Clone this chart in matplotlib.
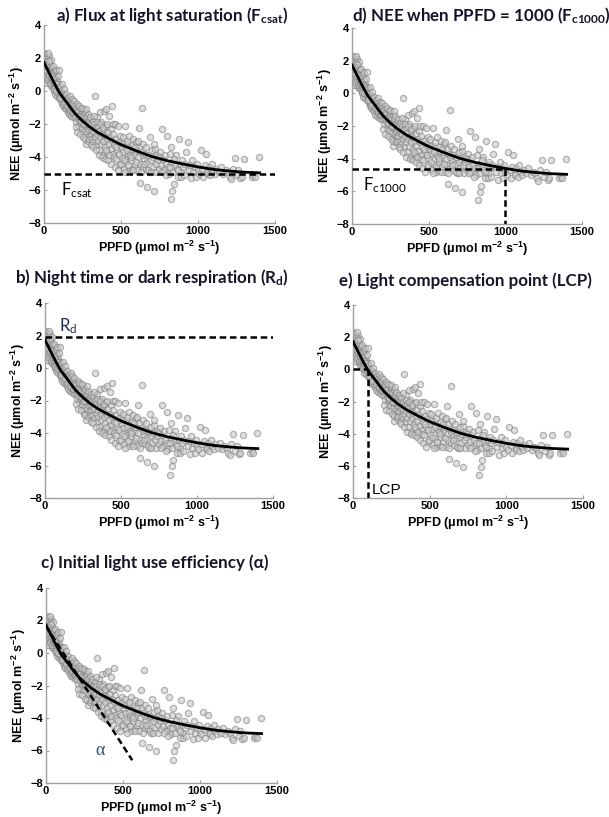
import numpy as np
import matplotlib
matplotlib.use("Agg")
import matplotlib.pyplot as plt

plt.rcParams["mathtext.fontset"] = "custom"
plt.rcParams["mathtext.bf"] = "Liberation Sans:bold"
plt.rcParams["mathtext.rm"] = "Liberation Sans"
plt.rcParams["mathtext.it"] = "Liberation Sans:italic"
plt.rcParams["mathtext.sf"] = "Lato:bold"
plt.rcParams["mathtext.cal"] = "Lato"

ppfd_obs = [
    2, 5, 8, 10, 12, 14, 15, 18, 20, 22, 24, 25, 28, 30, 32, 34, 36, 38, 40, 42, 44, 46, 48, 50,
    3, 6, 9, 16, 26, 35, 45, 4, 11, 19, 27, 33, 39, 47,
    52, 54, 56, 58, 60, 62, 64, 66, 68, 70, 72, 74, 76, 78, 80, 82, 84, 86, 88, 90, 92, 94, 96, 98, 100,
    57, 63, 71, 79, 87, 95,
    102, 105, 108, 110, 112, 115, 118, 120, 122, 125, 128, 130, 133, 135, 138, 140, 143, 145, 148, 150,
    153, 155, 158, 160, 163, 165, 168, 170, 173, 175, 178, 180, 183, 185, 188, 190, 193, 195, 198, 200,
    107, 127, 147, 167, 187,
    203, 206, 210, 213, 216, 220, 223, 226, 230, 233, 236, 240, 243, 246, 250, 253, 256, 260, 263, 266,
    270, 272, 275, 278, 280, 283, 286, 290, 293, 296, 300, 218, 238, 258, 288,
    205, 215, 225, 235, 245, 255, 265, 275, 285, 295,
    303, 306, 310, 313, 316, 320, 323, 326, 330, 333, 336, 340, 343, 346, 350, 353, 356, 360, 363, 366,
    370, 373, 376, 380, 383, 386, 390, 393, 396, 400, 405, 408, 412, 415, 420, 425, 428, 432, 436, 440,
    443, 447, 450,
    305, 315, 325, 335, 345, 355, 365, 375, 385, 395, 402, 410, 418, 425, 435, 445, 452,
    455, 460, 465, 470, 475, 480, 485, 490, 495, 500, 505, 510, 515, 520, 526, 530, 535, 540, 545, 550,
    555, 560, 565, 570, 575, 580, 585, 590, 595, 600, 605, 610, 614, 618, 622, 625, 630, 636, 640, 645, 650,
    458, 468, 478, 488, 498, 508, 518, 528, 538, 548, 558, 568, 578, 588, 598, 608, 628, 642,
    655, 660, 665, 669, 672, 678, 684, 690, 695, 700, 705, 710, 717, 720, 725, 730, 735, 740, 748, 755,
    760, 768, 772, 778, 785, 790, 800, 805, 810, 815, 822, 826, 830, 833, 838, 844, 850, 856, 862, 868,
    877, 882, 888, 895, 900,
    652, 675, 698, 715, 745, 765, 795, 820, 845, 870, 890,
    908, 915, 922, 932, 940, 948, 955, 962, 970, 978, 985, 992, 1000, 1008, 1020, 1028, 1035, 1045, 1053,
    1060, 1064, 1072, 1080, 1090, 1100, 1110, 1120, 1135, 1150, 1165, 1180, 1195, 1205, 1215, 1225, 1239,
    1250, 1262, 1275, 1283, 1300, 1350, 1360, 1370, 1393,
]
nee_obs = [
    2.3, 1.9, 1.5, 2.2, 1.2, 0.9, 1.7, 2.0, 1.4, 1.0, 0.6, 1.8, 1.3, 2.1, 0.8, 1.5, 1.1, 0.4, 1.6, 1.2, 0.7, 1.9, 1.0, 1.4,
    1.1, 0.7, 1.3, 0.5, 2.3, 1.8, 0.3, 1.6, 0.9, 1.2, 0.7, 1.0, 0.5, 0.8,
    0.6, 1.1, 0.2, 1.5, 0.8, 0.4, 1.0, 0.0, 0.6, 1.2, 0.3, -0.2, 0.8, 0.5, 1.3, 0.1, -0.3, 0.6, 0.2, 0.9, -0.1, 0.4, -0.4, 0.2, 1.3,
    0.7, 0.1, 0.5, 0.0, 0.4, 0.1,
    -0.3, 0.3, -0.6, 0.0, -0.2, -0.8, 0.4, -0.5, -0.1, -0.9, -0.3, -0.6, 0.1, -1.0, -0.4, -0.7, -0.2, -1.1, -0.5, -0.8,
    -1.3, -0.4, -1.0, -0.6, -1.4, -0.9, -0.3, -1.2, -0.7, -1.5, -1.0, -0.5, -1.3, -0.8, -1.6, -1.1, -0.6, -1.4, -0.9, -1.2,
    -0.4, -0.7, -0.9, -1.1, -1.3,
    -1.6, -1.0, -1.9, -1.3, -0.8, -1.7, -1.2, -2.1, -1.5, -1.0, -1.9, -1.4, -2.3, -1.7, -1.1, -2.0, -1.5, -2.4, -1.8, -1.3,
    -3.2, -2.1, -1.6, -2.5, -1.9, -1.4, -2.3, -2.7, -1.8, -2.2, -1.6, -1.5, -1.8, -2.0, -2.0,
    -2.2, -2.5, -0.9, -2.6, -1.0, -2.8, -2.9, -1.1, -3.0, -2.9,
    -2.6, -2.0, -2.9, -2.4, -1.8, -3.1, -2.5, -2.0, -0.3, -2.8, -2.2, -3.3, -1.6, -2.6, -3.0, -2.1, -3.6, -2.4, -1.3, -2.8,
    -3.2, -1.9, -2.6, -3.9, -2.3, -3.0, -1.2, -2.7, -3.4, -2.1, -1.1, -2.9, -3.7, -2.5, -3.2, -1.5, -2.8, -3.5, -2.3, -0.9,
    -3.0, -3.8, -2.6,
    -3.3, -3.4, -1.5, -3.6, -1.9, -3.9, -2.0, -4.0, -2.2, -4.1, -3.6, -2.0, -4.2, -3.9, -4.4, -2.0, -4.0,
    -3.3, -2.0, -4.1, -2.9, -3.6, -2.15, -3.1, -4.5, -2.7, -3.4, -4.0, -2.8, -3.7, -4.7, -2.15, -3.2, -4.3, -3.0, -3.8, -4.8,
    -2.7, -3.5, -4.2, -4.7, -3.3, -2.9, -3.9, -4.5, -3.6, -3.1, -4.8, -4.0, -2.25, -3.4, -4.4, -5.55, -3.7, -1.05, -4.6, -3.2, -4.1,
    -4.6, -3.4, -4.8, -3.8, -4.4, -3.2, -4.2, -4.9, -3.6, -4.5, -3.9, -4.0, -4.8, -3.4, -4.3, -3.0, -4.9, -3.9,
    -3.8, -4.7, -3.4, -5.8, -4.3, -3.9, -4.9, -2.8, -4.2, -3.6, -4.6, -4.0, -6.05, -3.5, -4.4, -4.9, -3.9, -4.2, -4.7, -3.7,
    -4.5, -2.3, -4.1, -4.8, -3.9, -4.4, -2.7, -4.6, -5.0, -3.8, -6.56, -3.4, -4.3, -6.05, -4.9, -5.65, -4.5, -3.9, -4.7, -5.2,
    -2.9, -4.4, -4.9, -4.2, -4.6,
    -4.4, -4.8, -4.9, -3.2, -4.0, -4.9, -5.1, -4.6, -4.1, -4.8, -5.2,
    -5.1, -4.4, -3.7, -3.1, -4.8, -4.5, -5.3, -4.2, -4.9, -4.6, -5.2, -4.4, -4.8, -5.0, -3.6, -4.7, -5.2, -4.5, -3.8,
    -4.9, -5.0, -4.6, -5.1, -4.4, -4.8, -5.0, -4.7, -4.9, -4.6, -5.0, -4.8, -4.9, -5.2, -5.35, -4.7, -4.06,
    -5.1, -4.8, -5.3, -5.2, -4.1, -5.2, -5.1, -5.2, -4.0,
]

# fitted light response curve
ppfd_fit = [0, 25, 50, 75, 100, 125, 150, 175, 200, 250, 300, 350, 400, 450, 500, 600, 700, 800, 900, 1000, 1100, 1200, 1300, 1400]
nee_fit = [1.72, 1.25, 0.78, 0.33, -0.1, -0.42, -0.72, -1.05, -1.35, -1.82, -2.2, -2.52, -2.77, -3.02, -3.25, -3.63, -3.97, -4.22, -4.42, -4.6, -4.75, -4.85, -4.92, -4.96]

# parameters marked on the panels
f_csat = -5.0
r_d = 1.9
f_c1000 = -4.66
ppfd_1000 = 1000
lcp = 100
alpha_ppfd = [0, 560]
alpha_nee = [1.65, -6.6]

W, H = 609, 817
fig = plt.figure(figsize=(W / 100, H / 100), dpi=100)

LABEL_FONT = "Liberation Sans"
TITLE_FONT = ["Lato", "DejaVu Sans"]
DASH = (0, (2.6, 1.5))


def make_axes(x0, y0, x1, y1):
    ax = fig.add_axes([x0 / W, 1 - y1 / H, (x1 - x0) / W, (y1 - y0) / H])
    ax.scatter(ppfd_obs, nee_obs, s=20, facecolor="#cccccc", edgecolor="#858585",
               linewidths=0.9, alpha=0.6, zorder=2)
    ax.plot(ppfd_fit, nee_fit, color="black", lw=2.0, zorder=4)
    ax.set_xlim(0, 1500)
    ax.set_ylim(-8, 4)
    ax.set_xticks([0, 500, 1000, 1500])
    ax.set_yticks([-8, -6, -4, -2, 0, 2, 4])
    for s in ["top", "right"]:
        ax.spines[s].set_visible(False)
    for s in ["left", "bottom"]:
        ax.spines[s].set_color("#a0a0a0")
        ax.spines[s].set_linewidth(1.0)
    ax.tick_params(direction="in", length=2, color="#a0a0a0", pad=2)
    for lab in ax.get_xticklabels() + ax.get_yticklabels():
        lab.set_fontfamily(LABEL_FONT)
        lab.set_fontweight("bold")
        lab.set_fontsize(8)
    ax.set_xlabel(r"PPFD (μmol m$^{\mathbf{-2}}$ s$^{\mathbf{-1}}$)", fontfamily=LABEL_FONT,
                  fontweight="bold", fontsize=9, labelpad=2)
    ax.set_ylabel(r"NEE (μmol m$^{\mathbf{-2}}$ s$^{\mathbf{-1}}$)", fontfamily=LABEL_FONT,
                  fontweight="bold", fontsize=9, labelpad=2)
    return ax


def title(x, y, txt):
    fig.text(x / W, 1 - y / H, txt, ha="center", va="center", fontfamily=TITLE_FONT,
             fontweight="bold", fontsize=12.2, color="#14142b")


# a) Fcsat
ax_a = make_axes(44, 25, 275, 223)
ax_a.plot([0, 1500], [f_csat, f_csat], color="black", lw=1.8, ls=DASH, zorder=3)
ax_a.text(110, -6.0, r"F$_{\mathcal{csat}}$", fontfamily="Lato", fontsize=12, va="center")
title(172, 15, r"a) Flux at light saturation (F$_{\mathsf{csat}}$)")

# d) Fc1000
ax_d = make_axes(352, 28, 582, 224)
ax_d.plot([0, ppfd_1000], [f_c1000, f_c1000], color="black", lw=1.8, ls=DASH, zorder=3)
ax_d.plot([ppfd_1000, ppfd_1000], [f_c1000, -8], color="black", lw=1.8, ls=DASH, zorder=3)
ax_d.text(70, -5.6, r"F$_{\mathcal{c1000}}$", fontfamily="Lato", fontsize=12, va="center")
title(481, 16, r"d) NEE when PPFD = 1000 (F$_{\mathsf{c1000}}$)")

# b) Rd
ax_b = make_axes(45, 303, 273, 498)
ax_b.plot([0, 1500], [r_d, r_d], color="black", lw=1.8, ls=DASH, zorder=3)
ax_b.text(90, 2.6, r"R$_{\mathcal{d}}$", fontfamily="Lato", fontsize=12, va="center",
          color="#1f2d5a")
title(152, 278, r"b) Night time or dark respiration (R$_{\mathsf{d}}$)")

# e) LCP
ax_e = make_axes(353, 305, 583, 498)
ax_e.plot([0, lcp], [0, 0], color="black", lw=1.8, ls=DASH, zorder=3)
ax_e.plot([lcp, lcp], [0, -8], color="black", lw=1.8, ls=DASH, zorder=3)
ax_e.text(125, -7.5, "LCP", fontfamily=LABEL_FONT, fontsize=11, va="center")
title(465, 281, "e) Light compensation point (LCP)")

# c) alpha
ax_c = make_axes(46, 588, 277, 783)
ax_c.plot(alpha_ppfd, alpha_nee, color="black", lw=1.8, ls=DASH, zorder=3)
ax_c.text(320, -6.0, "α", fontfamily=["Liberation Serif", "DejaVu Sans"], fontsize=13,
          va="center", color="#2e4a8a")
title(155, 563, "c) Initial light use efficiency (α)")

fig.savefig("out.png", dpi=100)
